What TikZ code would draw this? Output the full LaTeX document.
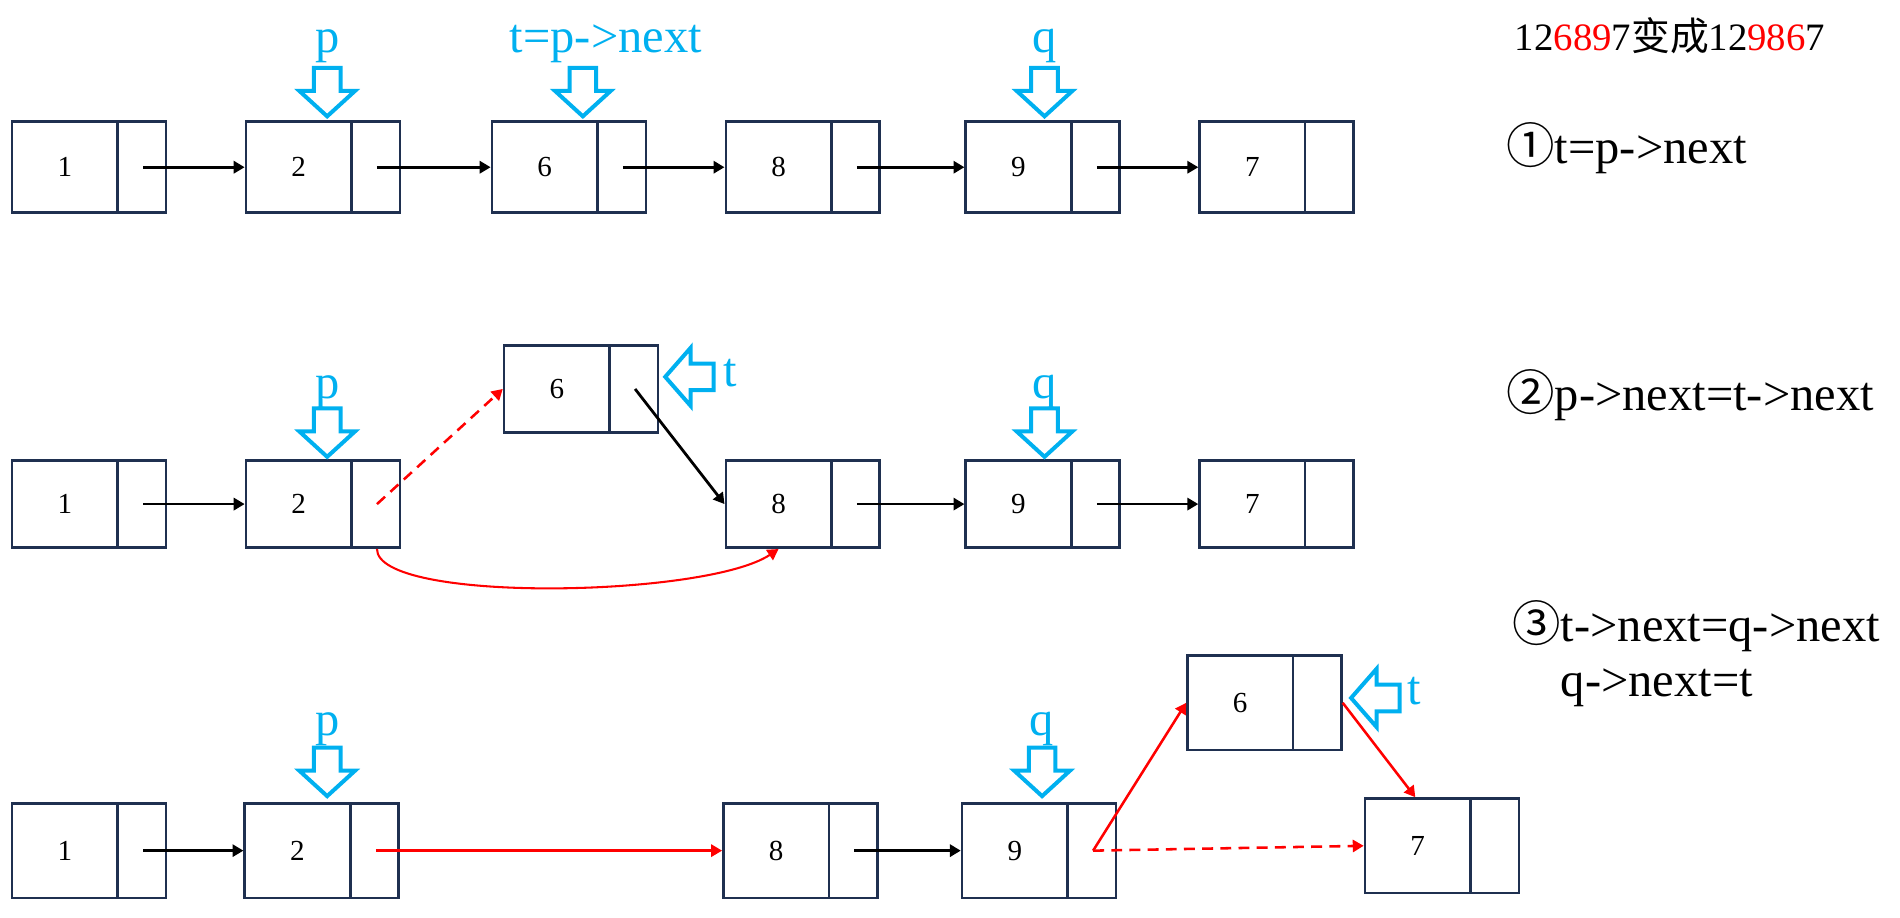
\documentclass[tikz,border=0pt]{standalone}
\usepackage{fontspec}
\setmainfont{Liberation Serif}
\newfontfamily\cjk{Noto Sans CJK SC}
\usetikzlibrary{arrows.meta,calc}
\definecolor{boxline}{HTML}{1F3050}
\definecolor{ptrblue}{HTML}{00B0F0}
\newcommand{\val}[1]{\makebox[127pt][l]{\makebox[87pt]{#1}}}

\begin{document}
\begin{tikzpicture}[x=1pt,y=-1pt,>={Triangle[length=9pt,width=10pt]},
    cell/.style={draw=boxline,line width=2.2pt,minimum width=127pt,minimum height=75pt,inner sep=0pt,
      font=\fontsize{24}{24}\selectfont,
      path picture={\draw[boxline,line width=2.2pt] ([xshift=-40pt]path picture bounding box.north east)
        -- ([xshift=-40pt]path picture bounding box.south east);}},
    link/.style={->,line width=2.3pt},
    redlink/.style={->,red,line width=2.1pt},
    lbl/.style={anchor=base,text=ptrblue,font=\fontsize{40}{40}\selectfont,inner sep=0pt},
    note/.style={anchor=base west,inner sep=0pt,font=\fontsize{40}{40}\selectfont},
    downptr/.pic={\draw[ptrblue,line width=3.3pt] (0,0) -- (23,-21) -- (11,-21) -- (11,-40)
      -- (-11,-40) -- (-11,-21) -- (-23,-21) -- cycle;},
    leftptr/.pic={\draw[ptrblue,line width=3.3pt] (0,0) -- (21,-24) -- (21,-11) -- (40,-11)
      -- (40,11) -- (21,11) -- (21,24) -- cycle;}]
  \useasboundingbox (0,0) rectangle (1568,757);

  % row 1
  \node[cell] (a1) at (73.5,138) {\val{1}};
  \node[cell] (a2) at (266.5,138) {\val{2}};
  \node[cell] (a3) at (469.5,138) {\val{6}};
  \node[cell] (a4) at (662.5,138) {\val{8}};
  \node[cell] (a5) at (860.5,138) {\val{9}};
  \node[cell] (a6) at (1053.5,138) {\val{7}};
  \foreach \i/\j in {a1/a2,a2/a3,a3/a4,a4/a5,a5/a6}
    \draw[link] ([xshift=-20pt]\i.east) -- (\j.west);
  \node[lbl] (p1) at (270,43) {p};
  \node[lbl] (t1) at (500,43) {t=p->next};
  \node[lbl] (q1) at (862,43) {q};
  \pic at (270,96) {downptr};
  \pic at (481,96) {downptr};
  \pic at (862,96) {downptr};

  % row 2
  \node[cell,minimum height=72pt] (b1) at (73.5,416) {\val{1}};
  \node[cell,minimum height=72pt] (b2) at (266.5,416) {\val{2}};
  \node[cell,minimum height=72pt] (b6) at (479.5,321) {\val{6}};
  \node[cell,minimum height=72pt] (b8) at (662.5,416) {\val{8}};
  \node[cell,minimum height=72pt] (b9) at (860.5,416) {\val{9}};
  \node[cell,minimum height=72pt] (b7) at (1053.5,416) {\val{7}};
  \foreach \i/\j in {b1/b2,b8/b9,b9/b7}
    \draw[link] ([xshift=-20pt]\i.east) -- (\j.west);
  \draw[redlink,dash pattern=on 9pt off 6pt] ([xshift=-20pt]b2.east) -- (b6.west);
  \draw[link] ([xshift=-20pt]b6.east) -- (b8.west);
  \draw[redlink,line width=1.7pt] ([xshift=-20pt]b2.south east) .. controls +(0,45) and +(-60,40) .. ([xshift=-20pt]b8.south);
  \node[lbl] (p2) at (270,329) {p};
  \node[lbl] (q2) at (862,329) {q};
  \node[lbl] (t2) at (603,319) {t};
  \pic at (270,377) {downptr};
  \pic at (862,377) {downptr};
  \pic at (549,311) {leftptr};

  % row 3
  \node[cell,minimum height=78pt] (c1) at (73.5,702) {\val{1}};
  \node[cell,minimum height=78pt] (c2) at (265.5,702) {\val{2}};
  \node[cell,minimum height=78pt] (c8) at (660.5,702) {\val{8}};
  \node[cell,minimum height=78pt] (c9) at (857.5,702) {\val{9}};
  \node[cell,minimum height=78pt] (c6) at (1043.5,580) {\val{6}};
  \node[cell,minimum height=78pt] (c7) at (1190,698) {\val{7}};
  \foreach \i/\j in {c1/c2,c8/c9}
    \draw[link] ([xshift=-20pt]\i.east) -- (\j.west);
  \draw[redlink] ([xshift=-20pt]c2.east) -- (c8.west);
  \draw[redlink] ([xshift=-20pt]c9.east) -- (c6.west);
  \draw[redlink] (c6.east) -- ([xshift=-22pt]c7.north);
  \draw[redlink,dash pattern=on 9pt off 6pt] ([xshift=-20pt]c9.east) -- (c7.west);
  \node[lbl] (p3) at (270,607) {p};
  \node[lbl] (q3) at (860,607) {q};
  \node[lbl] (t3) at (1167,581) {t};
  \pic at (270,657) {downptr};
  \pic at (860,657) {downptr};
  \pic at (1115,576) {leftptr};

  % notes
  \node[note,font=\fontsize{32}{32}\selectfont] (title) at (1250,42)
    {12\textcolor{red}{689}7{\cjk 变成}12\textcolor{red}{986}7};
  \node[note] (s1) at (1243,135) {{\cjk ①}t=p->next};
  \node[note] (s2) at (1243,339) {{\cjk ②}p->next=t->next};
  \node[note] (s3) at (1248,529) {{\cjk ③}t->next=q->next};
  \node[note] (s4) at (1288,575) {q->next=t};
\end{tikzpicture}
\end{document}
